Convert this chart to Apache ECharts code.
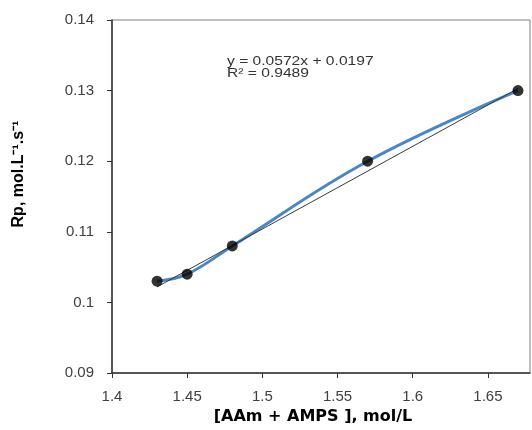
<!DOCTYPE html>
<html>
<head>
<meta charset="utf-8">
<script src="https://cdn.jsdelivr.net/npm/echarts@6/dist/echarts.min.js"></script>
<style>
  html, body { margin: 0; padding: 0; background: #fff; }
  #chart { width: 532px; height: 430px; }
</style>
</head>
<body>
<div id="chart"></div>
<script>
// Monomer concentration [AAm + AMPS] (mol/L) vs. polymerization rate Rp
const concentration = [1.43, 1.45, 1.48, 1.57, 1.67];
const rate = [0.103, 0.104, 0.108, 0.120, 0.130];

// Linear trend line end points
const trendX = [1.43, 1.67];
const trendY = [0.1022, 0.1303];

const xTicks = { min: 1.4, max: 1.678, interval: 0.05 };
const yTicks = { min: 0.09, max: 0.14, interval: 0.01 };

const equationLines = ['y = 0.0572x + 0.0197', 'R\u00B2 = 0.9489'];

const pairs = (xs, ys) => xs.map((x, i) => [x, ys[i]]);

const chart = echarts.init(document.getElementById('chart'), null, { renderer: 'canvas' });

const labelFont = { fontFamily: 'Liberation Sans, Arial, sans-serif', fontSize: 15, color: '#404040' };

chart.setOption({
  animation: false,
  backgroundColor: '#fff',
  grid: { left: 112, top: 20, right: 2, bottom: 57, show: true, borderColor: '#7f7f7f', borderWidth: 1 },
  xAxis: {
    type: 'value',
    min: xTicks.min, max: xTicks.max, interval: xTicks.interval,
    axisLine: { show: true, onZero: false, lineStyle: { color: '#333', width: 1.5 } },
    axisTick: { show: true, inside: false, length: 5, lineStyle: { color: '#333' } },
    axisLabel: Object.assign({ margin: 16, showMaxLabel: false }, labelFont),
    splitLine: { show: false }
  },
  yAxis: {
    type: 'value',
    min: yTicks.min, max: yTicks.max, interval: yTicks.interval,
    axisLine: { show: true, onZero: false, lineStyle: { color: '#333', width: 1.5 } },
    axisTick: { show: true, inside: false, length: 5, lineStyle: { color: '#333' } },
    axisLabel: Object.assign({ margin: 18, formatter: v => String(+v.toFixed(3)) }, labelFont),
    splitLine: { show: false }
  },
  series: [
    {
      name: 'Rp',
      type: 'line',
      data: pairs(concentration, rate),
      smooth: 0.4,
      symbol: 'none',
      lineStyle: { color: '#4a86c6', width: 3 },
      z: 2
    },
    {
      name: 'Linear',
      type: 'line',
      data: pairs(trendX, trendY),
      symbol: 'none',
      lineStyle: { color: '#3a3a3a', width: 1 },
      z: 3
    },
    {
      name: 'points',
      type: 'scatter',
      data: pairs(concentration, rate),
      symbol: 'circle',
      symbolSize: 11,
      itemStyle: { color: '#000' },
      z: 4
    }
  ],
  graphic: [
    {
      type: 'text', x: 227, y: 55, scaleX: 1.2,
      style: {
        text: equationLines.join('\n'),
        font: '13px "Liberation Sans", Arial, sans-serif',
        fill: '#333', lineHeight: 12
      }
    },
    {
      type: 'text', x: 313, y: 417,
      style: {
        text: '[AAm + AMPS ], mol/L',
        font: 'bold 16px "DejaVu Sans", sans-serif',
        fill: '#000', align: 'center', verticalAlign: 'middle'
      }
    },
    {
      type: 'text', x: 19, y: 174, rotation: Math.PI / 2,
      style: {
        text: 'Rp, mol.L\u207B\u00B9.s\u207B\u00B9',
        font: 'bold 16px "Liberation Sans", Arial, sans-serif',
        fill: '#000', align: 'center', verticalAlign: 'middle'
      }
    }
  ]
});
</script>
</body>
</html>
